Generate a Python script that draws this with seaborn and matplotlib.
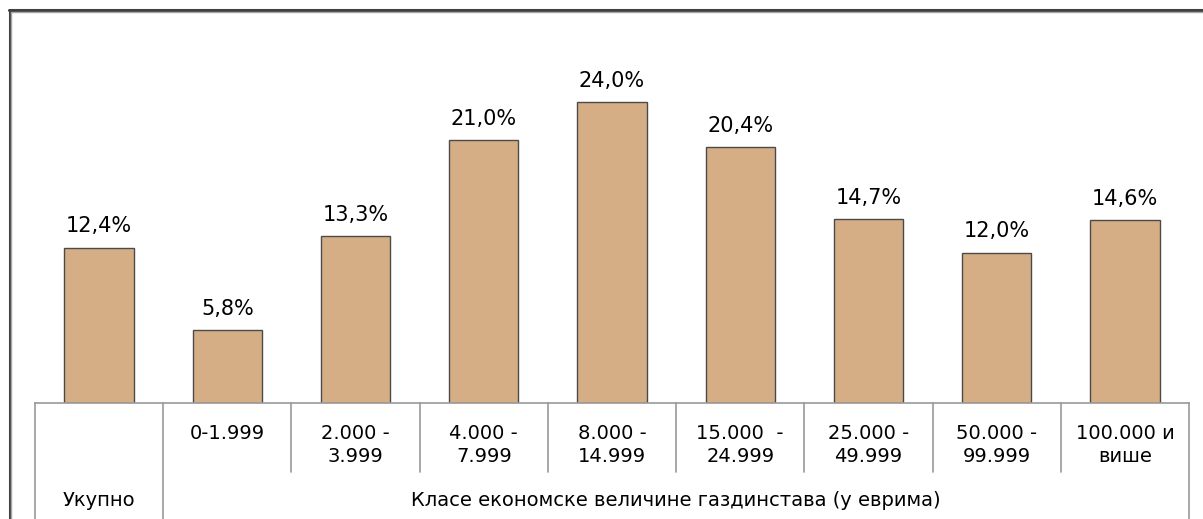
import matplotlib
matplotlib.use("Agg")
import matplotlib.pyplot as plt
from matplotlib.lines import Line2D
import seaborn as sns
import pandas as pd

categories = ["Укупно", "0-1.999", "2.000 -\n3.999", "4.000 -\n7.999", "8.000 -\n14.999",
              "15.000  -\n24.999", "25.000 -\n49.999", "50.000 -\n99.999", "100.000 и\nвише"]
values = [12.4, 5.8, 13.3, 21.0, 24.0, 20.4, 14.7, 12.0, 14.6]
total_label = "Укупно"
group_label = "Класе економске величине газдинстава (у еврима)"

sns.set_theme(style="white")
plt.rcParams["font.family"] = ["DejaVu Sans"]

W, H = 1203, 519
fig = plt.figure(figsize=(W / 100, H / 100), dpi=100)
ax_left, ax_right, ax_bottom, ax_top = 35, 1189, 403, 10
ax = fig.add_axes([ax_left / W, 1 - ax_bottom / H, (ax_right - ax_left) / W, (ax_bottom - ax_top) / H])

df = pd.DataFrame({"cat": categories, "val": values})
sns.barplot(data=df, x="cat", y="val", ax=ax, color="#D6AE86", width=0.54,
            edgecolor="#4a4a4a", linewidth=1.0, saturation=1)

ax.set_xlim(-0.5, len(categories) - 0.5)
ax.set_ylim(0, (ax_bottom - ax_top) / 12.54)
ax.set_xlabel("")
ax.set_ylabel("")
ax.set_yticks([])

labels = [f"{v:.1f}%".replace(".", ",") for v in values]
ax.bar_label(ax.containers[0], labels=labels, padding=8, fontsize=15, color="#000000")

# tick labels (first one is shown lower, as a group label)
tick_labels = [""] + categories[1:]
ax.set_xticks(range(len(categories)))
ax.set_xticklabels(tick_labels, fontsize=14, color="#000000", linespacing=1.3, va="top")
ax.tick_params(axis="x", length=0, pad=15)

for s in ["left", "right", "top"]:
    ax.spines[s].set_visible(False)
ax.spines["bottom"].set_color("#999999")
ax.spines["bottom"].set_linewidth(1.2)

# separators below axis (in data x, figure-pixel y)
def vline(xd, y_bottom_px):
    xf = (ax_left + (xd + 0.5) / len(categories) * (ax_right - ax_left)) / W
    fig.add_artist(Line2D([xf, xf], [1 - ax_bottom / H, 1 - y_bottom_px / H],
                          color="#999999", lw=1.2, transform=fig.transFigure))

for xd in [-0.5, 0.5, len(categories) - 0.5]:
    vline(xd, H + 2)
for i in range(1, len(categories) - 1):
    vline(i + 0.5, 472)

# group labels
fig.text((ax_left + 0.5 / len(categories) * (ax_right - ax_left)) / W, 1 - 500 / H, total_label,
         ha="center", va="center", fontsize=14, color="#000000")
x0 = ax_left + 1 / len(categories) * (ax_right - ax_left)
fig.text(((x0 + ax_right) / 2) / W, 1 - 500 / H, group_label,
         ha="center", va="center", fontsize=14, color="#000000")

# outer border (top and left only visible)
fig.add_artist(Line2D([9 / W, 1], [1 - 10 / H, 1 - 10 / H], color="#404040", lw=2.2, transform=fig.transFigure))
fig.add_artist(Line2D([9.5 / W, 9.5 / W], [0, 1 - 10 / H], color="#404040", lw=2.2, transform=fig.transFigure))
fig.add_artist(Line2D([11 / W, 1], [1 - 11.8 / H, 1 - 11.8 / H], color="#a8a8a8", lw=1, transform=fig.transFigure))
fig.add_artist(Line2D([11.3 / W, 11.3 / W], [0, 1 - 11.8 / H], color="#a8a8a8", lw=1, transform=fig.transFigure))

fig.savefig("out.png", dpi=100)
